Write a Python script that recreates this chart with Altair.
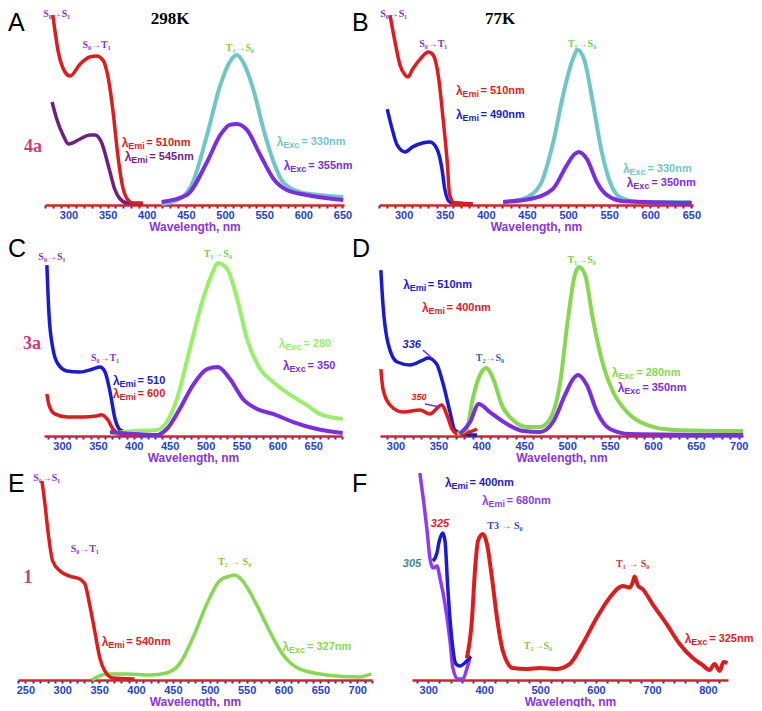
import altair as alt
import pandas as pd

# ---------------- Panel A : 4a, 298 K ----------------
A_abs510_x = [280, 287, 295.5, 302, 315, 327, 336, 344, 351, 357, 363, 368, 375, 383, 395]
A_abs510_y = [98.4, 79.3, 68.9, 66.8, 73.1, 76.7, 77.2, 75.1, 65.3, 48.2, 25.9, 11.9, 3.1, 1.0, 1.0]
A_abs545_x = [279, 285, 293, 300, 315, 327, 334, 342, 352, 359, 366, 375, 395]
A_abs545_y = [53.4, 44.6, 36.3, 31.6, 34.2, 36.3, 36.3, 32.6, 18.7, 8.3, 3.1, 1.0, 0.5]
A_em330_x = [419, 442, 459, 477, 494, 506, 515, 523, 536, 549, 562, 574, 596, 621, 651]
A_em330_y = [0.5, 3.1, 11.9, 36.3, 62.2, 74.1, 77.7, 74.1, 60.1, 39.4, 22.3, 11.9, 6.7, 5.2, 4.1]
A_em355_x = [419, 451, 477, 494, 506, 515, 528, 545, 562, 579, 604, 651]
A_em355_y = [1.6, 5.2, 22.3, 36.3, 41.5, 42.0, 38.9, 25.9, 13.5, 7.8, 5.2, 2.6]

# ---------------- Panel B : 4a, 77 K ----------------
B_abs510_x = [283.4, 289.5, 295.5, 301.6, 305, 311, 320, 330, 336, 342, 348, 353, 356, 362, 384]
B_abs510_y = [98.4, 84.5, 72.5, 67.4, 66.3, 70.5, 75.6, 79.3, 77.7, 67.4, 44.6, 22.3, 5.2, 1.0, 0.5]
B_abs490_x = [280, 286, 292, 301.6, 311, 323, 332, 340.5, 346.6, 350, 356, 384]
B_abs490_y = [49.7, 39.4, 31.1, 27.5, 30.1, 32.1, 32.6, 29.0, 18.7, 8.3, 1.6, 0.5]
B_em330_x = [421, 445, 466, 482, 494, 504.6, 512, 520.5, 530, 541, 551, 563, 587, 650]
B_em330_y = [1.6, 3.1, 10.4, 32.6, 57.0, 74.1, 80.3, 74.1, 53.4, 27.5, 11.9, 4.1, 1.6, 1.6]
B_em350_x = [421, 453.6, 481.5, 498.6, 508, 513, 523, 535, 547, 567, 650.5]
B_em350_y = [1.6, 3.1, 8.3, 20.7, 26.4, 27.5, 23.8, 11.9, 5.2, 2.0, 1.0]

# ---------------- Panel C : 3a, 298 K ----------------
C_abs510_x = [279, 282, 287.5, 294.5, 307, 325, 343, 353, 360, 367, 374, 381, 399, 432]
C_abs510_y = [92.9, 65.8, 47.3, 39.1, 35.3, 34.8, 36.4, 37.5, 34.8, 23.9, 9.2, 3.3, 1.1, 0.5]
C_abs600_x = [279, 282, 290, 307, 329, 348, 355, 364, 371, 381, 390.6]
C_abs600_y = [22.8, 16.8, 12.0, 10.3, 10.3, 10.9, 11.6, 8.7, 3.8, 1.1, 0.5]
C_em280_x = [367, 399, 432, 446, 460, 478, 496.5, 510, 517, 530, 544, 557.7, 576, 594, 618, 641, 659, 691]
C_em280_y = [1.1, 2.7, 3.3, 7.6, 20.1, 47.3, 74.5, 89.1, 94.0, 90.8, 74.5, 52.7, 36.4, 29.3, 22.3, 16.8, 12.0, 9.2]
C_em350_x = [367, 399, 432, 446, 464, 482.5, 502, 517, 534, 552, 571.7, 594, 622, 655, 691]
C_em350_y = [2.2, 1.1, 0.5, 3.8, 14.7, 27.7, 36.4, 37.5, 31.0, 20.1, 14.7, 12.0, 7.6, 3.8, 1.6]

# ---------------- Panel D : 3a, 77 K ----------------
D_abs510_x = [283, 285.5, 291, 302, 317, 332, 338, 348, 355, 363.6, 369, 379, 395]
D_abs510_y = [90.2, 71.2, 51.1, 40.2, 38.6, 41.3, 42.4, 39.1, 29.3, 13.0, 3.3, 1.1, 0.5]
D_abs400_x = [283, 285.5, 293.7, 309, 328.6, 340, 354, 360, 366, 373, 387, 395]
D_abs400_y = [36.4, 25.5, 16.8, 13.0, 14.1, 12.0, 16.8, 11.4, 3.8, 1.1, 2.2, 3.8]
D_em280_x = [372, 383, 390, 398.5, 405.5, 414, 424, 437, 453, 468.5, 480, 492, 501, 509, 514, 521,
             530, 542, 553.6, 570, 593, 623.5, 705]
D_em280_y = [1.1, 3.8, 20.1, 33.2, 37.0, 31.0, 16.8, 8.7, 4.9, 4.9, 9.2, 29.3, 63.6, 87.5, 91.8, 87.5,
             63.6, 38.6, 23.9, 13.0, 6.0, 3.3, 2.7]
D_em350_x = [375, 387, 397, 410, 430, 449, 468.5, 483.6, 497.6, 507, 513, 523, 535, 550, 573, 705]
D_em350_y = [1.1, 7.6, 17.4, 13.0, 6.5, 2.7, 2.2, 7.6, 22.3, 31.0, 33.2, 27.7, 13.0, 3.8, 1.1, 0.5]

# ---------------- Panel E : 1, 298 K ----------------
E_abs540_x = [272.5, 276.5, 280.6, 287, 297, 310, 324, 330.7, 337, 344, 351, 357.7, 368.5, 398]
E_abs540_y = [99.0, 87.6, 74.1, 59.2, 54.2, 51.7, 50.2, 47.8, 37.8, 24.4, 10.9, 4.5, 1.0, 0.5]
E_em327_x = [340, 360, 387.5, 418.6, 441.6, 459, 477, 496, 513, 527, 533.6, 544.5, 563, 581, 598.6,
             621.6, 658, 703, 719]
E_em327_y = [0.0, 3.0, 3.0, 2.5, 3.5, 8.0, 20.9, 37.8, 49.3, 51.7, 52.2, 49.3, 37.8, 24.4, 12.9,
             5.5, 2.5, 1.5, 3.0]

# ---------------- Panel F : 1, 77 K ----------------
F_abs680_x = [285, 291, 298, 303, 308.5, 315.6, 321, 330, 339, 344, 353, 362, 369, 374.6]
F_abs680_y = [103.0, 90.5, 74.1, 60.7, 55.7, 56.7, 50.7, 37.8, 19.4, 6.0, 0.5, 0.5, 5.5, 10.9]
F_abs400_x = [308.5, 315.6, 319, 326, 330, 335, 342, 349.6, 356.7, 365.6, 376]
F_abs400_y = [59.2, 63.2, 68.2, 73.1, 69.2, 45.8, 20.9, 8.0, 7.0, 8.5, 11.9]
F_em325_x = [369, 378, 383.5, 389, 397.8, 405, 414, 423, 433.5, 451, 476, 499.6, 530, 553, 576, 601,
             624, 648, 660, 665.6, 669, 675, 683, 701, 726, 749.6, 773, 790, 803, 812, 821, 828, 835]
F_em325_y = [10.9, 29.4, 54.2, 69.2, 72.6, 67.7, 50.7, 30.8, 14.4, 6.0, 5.5, 6.0, 5.5, 8.0, 17.9, 30.8,
             40.8, 46.8, 46.0, 48.5, 51.5, 47.0, 45.3, 37.8, 27.9, 17.9, 10.9, 7.5, 5.0, 8.0, 4.5, 9.0, 8.5]

# ---------------- colours ----------------
RED = '#dd1d1d'
DPURP = '#6e1f80'
CYAN = '#70c6c6'
VIOLET = '#7b2de0'
BLUE = '#1a1ad4'
LGREEN = '#98f06a'
GREEN = '#86d850'
FPURP = '#8b3cf0'
TPURP = '#8a2fc8'
TGREEN = '#78d040'
PINK = '#c8407a'

# annotation tables (x in nm, y in relative intensity)
A_lam = [(368, 32.0, 'Emi', '= 510nm', RED), (372, 25.0, 'Emi', '= 545nm', DPURP),
         (566, 32.6, 'Exc', '= 330nm', CYAN), (575, 20.2, 'Exc', '= 355nm', VIOLET)]
A_tr = [(285, 99, 'S₀→S₁', TPURP), (336, 82.9, 'S₀→T₁', TPURP), (519, 81.3, 'T₁→S₀', TGREEN)]
B_lam = [(363.6, 59.1, 'Emi', '= 510nm', RED), (363.6, 46.6, 'Emi', '= 490nm', BLUE),
         (566.7, 18.5, 'Exc', '= 330nm', CYAN), (571.5, 11.5, 'Exc', '= 350nm', VIOLET)]
B_tr = [(288, 99, 'S₀→S₁', TPURP), (336, 83.4, 'S₀→T₁', TPURP), (517, 83.4, 'T₁→S₀', TGREEN)]
C_lam = [(371, 29.9, 'Emi', '= 510', BLUE), (371, 22.8, 'Emi', '= 600', RED),
         (602, 50.0, 'Exc', '= 280', LGREEN), (608, 38.0, 'Exc', '= 350', VIOLET)]
C_tr = [(286, 97.3, 'S₀→S₁', TPURP), (360, 42.4, 'S₀→T₁', TPURP), (517, 98.9, 'T₁→S₀', TGREEN)]
D_lam = [(309, 82.0, 'Emi', '= 510nm', BLUE), (331, 69.6, 'Emi', '= 400nm', RED),
         (552, 34.5, 'Exc', '= 280nm', GREEN), (559, 26.3, 'Exc', '= 350nm', VIOLET)]
D_tr = [(410, 42.4, 'T₂→S₀', '#3858b0'), (517, 95.6, 'T₁→S₀', TGREEN)]
D_it = [(319, 49.5, '336', BLUE, 11), (327.5, 21.2, '350', RED, 9)]
D_arrows = [(332, 46.7, 342.6, 42.4), (334.4, 17.4, 352, 15.8)]
E_lam = [(353.7, 18.9, 'Emi', '= 540nm', RED), (598.6, 16.4, 'Exc', '= 327nm', GREEN)]
E_tr = [(279, 100.5, 'S₀→S₁', TPURP), (330.7, 65.2, 'S₀→T₁', TPURP), (533.6, 58.7, 'T₂ → S₀', TGREEN)]
F_lam = [(330, 98.0, 'Emi', '= 400nm', BLUE), (396, 89.0, 'Emi', '= 680nm', FPURP),
         (758.5, 20.4, 'Exc', '= 325nm', RED)]
F_tr = [(437, 76.6, 'T3 → S₀', '#2a48c8'), (496, 16.9, 'T₂→S₀', TGREEN), (665.6, 57.7, 'T₁ → S₀', '#c83030')]
F_it = [(321, 77.6, '325', RED, 11), (271, 57.7, '305', '#3a8a8a', 11)]

SANS = 'Liberation Sans'
SERIF = 'Liberation Serif'


def panel(cfg):
    xs = alt.Scale(domain=cfg['xdom'], range=cfg['xrange'], nice=False, zero=False)
    ys = alt.Scale(domain=[0, 100], range=cfg['yrange'], nice=False, zero=False)
    ax = alt.Axis(values=cfg['ticks'], labelExpr=cfg['lab'], title='Wavelength, nm',
                  grid=False, domainColor='#e02020', domainWidth=2.5, tickColor='#2030d0',
                  tickWidth=2, tickSize=3, labelColor='#1f3fd0', labelFont=SANS,
                  labelFontWeight='bold', labelFontSize=11, labelPadding=1, labelOverlap=False,
                  labelFlush=False, titleColor='#8a35e0', titleFont=SANS, titleFontWeight='bold',
                  titleFontSize=12, titlePadding=1)

    def X(f='x'):
        return alt.X(f'{f}:Q', scale=xs, axis=ax)

    def Y(f='y'):
        return alt.Y(f'{f}:Q', scale=ys, axis=None)

    layers = []
    for lx, ly, col, sw in cfg['lines']:
        df = pd.DataFrame({'x': lx, 'y': ly})
        layers.append(alt.Chart(df).mark_line(color=col, strokeWidth=sw, interpolate='monotone')
                      .encode(x=X(), y=Y()))
    if cfg.get('arrows'):
        adf = pd.DataFrame(cfg['arrows'], columns=['x', 'y', 'x2', 'y2'])
        layers.append(alt.Chart(adf).mark_rule(color=VIOLET, strokeWidth=1.5)
                      .encode(x=X(), y=Y(), x2='x2:Q', y2='y2:Q'))
    lam = pd.DataFrame(cfg['lam'], columns=['x', 'y', 'sub', 'rest', 'c'])
    base = alt.Chart(lam).encode(x=X(), y=Y(), color=alt.Color('c:N', scale=None))
    layers.append(base.mark_text(text='λ', align='left', baseline='middle', font=SANS,
                                 fontWeight='bold', fontSize=12))
    layers.append(base.mark_text(align='left', baseline='middle', dx=6.5, dy=3, font=SANS,
                                 fontWeight='bold', fontSize=9).encode(text='sub:N'))
    layers.append(base.mark_text(align='left', baseline='middle', dx=24.5, font=SANS,
                                 fontWeight='bold', fontSize=11).encode(text='rest:N'))
    tr = pd.DataFrame(cfg['tr'], columns=['x', 'y', 't', 'c'])
    layers.append(alt.Chart(tr).mark_text(align='center', baseline='middle', font=SERIF,
                                          fontWeight='bold', fontSize=10)
                  .encode(x=X(), y=Y(), text='t:N', color=alt.Color('c:N', scale=None)))
    if cfg.get('it'):
        it = pd.DataFrame(cfg['it'], columns=['x', 'y', 't', 'c', 's'])
        layers.append(alt.Chart(it).mark_text(align='center', baseline='middle', font=SANS,
                                              fontWeight='bold', fontStyle='italic')
                      .encode(x=X(), y=Y(), text='t:N', color=alt.Color('c:N', scale=None),
                              size=alt.Size('s:Q', scale=None)))
    for (px, py, t, size, font, weight, col, align) in cfg['fixed']:
        layers.append(alt.Chart(pd.DataFrame({'t': [t]}))
                      .mark_text(align=align, baseline='top', font=font, fontWeight=weight,
                                 fontSize=size, color=col)
                      .encode(x=alt.value(px), y=alt.value(py), text='t:N'))
    return alt.layer(*layers).properties(width=cfg['w'], height=cfg['h'])


LW, RW = 365, 381
H1, H2, H3 = 194, 231, 244
lab50 = "datum.value % 50 == 0 ? datum.label : ''"
lab100 = "datum.value % 100 == 0 ? datum.label : ''"

pA = panel(dict(w=LW, h=H1, xdom=[270, 652], xrange=[37, 336], yrange=[H1, 1],
                ticks=list(range(270, 651, 10)), lab=lab50,
                lines=[(A_abs545_x, A_abs545_y, DPURP, 3.5), (A_abs510_x, A_abs510_y, RED, 3.5),
                       (A_em330_x, A_em330_y, CYAN, 4), (A_em355_x, A_em355_y, VIOLET, 4)],
                lam=A_lam, tr=A_tr,
                fixed=[(0, 0, 'A', 25, SANS, 'normal', 'black', 'left'),
                       (162, 0, '298K', 17, SERIF, 'bold', 'black', 'center'),
                       (25, 127, '4a', 18, SERIF, 'bold', PINK, 'center')]))
pB = panel(dict(w=RW, h=H1, xdom=[270, 652], xrange=[6, 320], yrange=[H1, 1],
                ticks=list(range(270, 651, 10)), lab=lab50,
                lines=[(B_abs490_x, B_abs490_y, BLUE, 3.5), (B_abs510_x, B_abs510_y, RED, 3.5),
                       (B_em330_x, B_em330_y, CYAN, 4), (B_em350_x, B_em350_y, VIOLET, 4)],
                lam=B_lam, tr=B_tr,
                fixed=[(-21, 0, 'B', 25, SANS, 'normal', 'black', 'left'),
                       (127, 0, '77K', 17, SERIF, 'bold', 'black', 'center')]))
pC = panel(dict(w=LW, h=H2, xdom=[275, 690], xrange=[36, 334], yrange=[H2, 47],
                ticks=list(range(280, 691, 10)), lab=lab50,
                lines=[(C_abs600_x, C_abs600_y, RED, 3.5), (C_abs510_x, C_abs510_y, BLUE, 3.5),
                       (C_em280_x, C_em280_y, LGREEN, 4), (C_em350_x, C_em350_y, VIOLET, 4)],
                lam=C_lam, tr=C_tr,
                fixed=[(0, 32, 'C', 25, SANS, 'normal', 'black', 'left'),
                       (24, 130, '3a', 18, SERIF, 'bold', PINK, 'center')]))
pD = panel(dict(w=RW, h=H2, xdom=[282, 705], xrange=[7, 370], yrange=[H2, 47],
                ticks=list(range(290, 701, 10)), lab=lab50,
                lines=[(D_abs510_x, D_abs510_y, BLUE, 3.5), (D_abs400_x, D_abs400_y, RED, 3.5),
                       (D_em280_x, D_em280_y, GREEN, 4), (D_em350_x, D_em350_y, VIOLET, 4)],
                lam=D_lam, tr=D_tr, it=D_it, arrows=D_arrows,
                fixed=[(-21, 32, 'D', 25, SANS, 'normal', 'black', 'left')]))
pE = panel(dict(w=LW, h=H3, xdom=[240, 720], xrange=[10, 364], yrange=[H3, 43],
                ticks=list(range(240, 721, 10)), lab=lab50,
                lines=[(E_em327_x, E_em327_y, GREEN, 3.5), (E_abs540_x, E_abs540_y, RED, 3.5)],
                lam=E_lam, tr=E_tr,
                fixed=[(0, 36, 'E', 25, SANS, 'normal', 'black', 'left'),
                       (20, 133, '1', 18, SERIF, 'bold', PINK, 'center')]))
pF = panel(dict(w=RW, h=H3, xdom=[271, 836], xrange=[39, 355], yrange=[H3, 43],
                ticks=list(range(280, 821, 20)), lab=lab100,
                lines=[(F_abs680_x, F_abs680_y, FPURP, 3.5), (F_abs400_x, F_abs400_y, BLUE, 3.5),
                       (F_em325_x, F_em325_y, RED, 4)],
                lam=F_lam, tr=F_tr, it=F_it,
                fixed=[(-21, 36, 'F', 25, SANS, 'normal', 'black', 'left')]))

chart = (alt.concat(pA, pB, pC, pD, pE, pF, columns=2, spacing=0, bounds='flush')
         .properties(padding=0, background='white')
         .configure_view(stroke=None))

chart.save("out.html", embed_options={"renderer": "svg", "actions": False})
